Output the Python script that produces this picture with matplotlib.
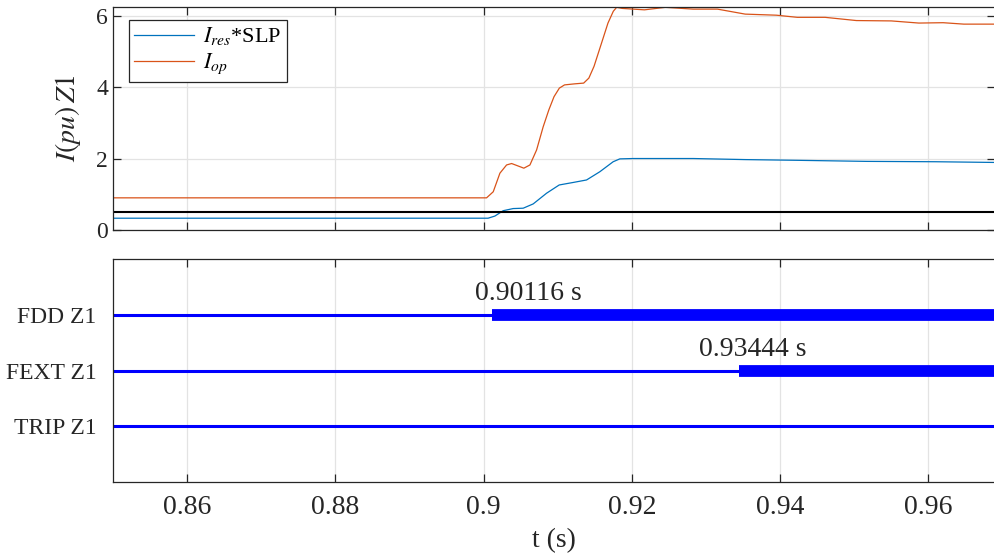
import numpy as np
import matplotlib
matplotlib.use("Agg")
import matplotlib.pyplot as plt

plt.rcParams['font.family'] = ['Liberation Serif', 'DejaVu Serif']
plt.rcParams['mathtext.fontset'] = 'stix'

# ---------------- currents (pu), zone 1 ---------------- #
t_op = [0.85, 0.9004, 0.9013, 0.9022, 0.9031, 0.90378, 0.90467, 0.90543, 0.90625, 0.90715,
        0.90804, 0.9088, 0.9095, 0.91022, 0.91092, 0.91232, 0.9135, 0.9142, 0.9149,
        0.91585, 0.91678, 0.9175, 0.91795, 0.9187, 0.9217, 0.92452, 0.92827, 0.93155,
        0.9353, 0.93951, 0.94233, 0.94608, 0.9503, 0.955, 0.95873, 0.962, 0.9648, 0.969]
I_op = [0.9, 0.9, 1.07, 1.59, 1.82, 1.86, 1.79, 1.73, 1.82, 2.24,
        2.89, 3.36, 3.73, 3.97, 4.06, 4.09, 4.11, 4.25, 4.58,
        5.19, 5.79, 6.12, 6.23, 6.2, 6.16, 6.23, 6.18, 6.18,
        6.04, 6.01, 5.95, 5.95, 5.86, 5.85, 5.79, 5.80, 5.76, 5.76]

t_res = [0.85, 0.9006, 0.90152, 0.90264, 0.90399, 0.90534, 0.90669, 0.9085, 0.9102,
         0.91208, 0.91389, 0.91568, 0.91748, 0.91838, 0.9202, 0.9283, 0.9353, 0.9423,
         0.9517, 0.961, 0.969]
I_res_slp = [0.33, 0.33, 0.39, 0.54, 0.60, 0.61, 0.73, 1.03, 1.26,
             1.33, 1.40, 1.63, 1.91, 1.99, 2.0, 2.0, 1.97, 1.95,
             1.92, 1.91, 1.89]

I_pickup = 0.5

# ---------------- relay elements ---------------- #
signals = ['FDD Z1', 'FEXT Z1', 'TRIP Z1']
levels = [3, 2, 1]
t_assert = [0.90116, 0.93444, None]
t_start, t_end = 0.85, 0.969
label_x = [0.8988, 0.9291]

xticks = [0.86, 0.88, 0.9, 0.92, 0.94, 0.96]

fig = plt.figure(figsize=(9.95, 5.58), dpi=100)
ax1 = fig.add_axes([0.1136, 0.5878, 0.8864, 0.3997])
ax2 = fig.add_axes([0.1136, 0.1362, 0.8864, 0.3996])

edge = '#262626'
gridc = '#e3e3e3'

ax1.plot(t_res, I_res_slp, color='#0072BD', lw=0.9, label=r'$I_{res}$*SLP')
ax1.plot(t_op, I_op, color='#D95319', lw=0.9, label=r'$I_{op}$')
ax1.axhline(I_pickup, color='black', lw=1.5)

ax1.set_xlim(t_start, t_end)
ax1.set_ylim(0, 6.24)
ax1.set_yticks([0, 2, 4, 6])
ax1.set_xticks(xticks)
ax1.set_xticklabels([])
ax1.grid(True, color=gridc, lw=0.9)
ax1.set_axisbelow(True)
ax1.tick_params(direction='in', length=6, width=0.9, colors=edge, labelsize=17,
                top=True, right=True)
ax1.set_ylabel(r'$I(pu)\,Z1$', fontsize=20, color=edge)
ax1.yaxis.set_label_coords(-0.034, 0.5)
leg = ax1.legend(loc='upper left', bbox_to_anchor=(0.018, 0.942), fontsize=16,
                 fancybox=False, framealpha=1, edgecolor=edge, handlelength=2.7,
                 borderaxespad=0, borderpad=0.25, labelspacing=0.2, handletextpad=0.4)
leg.get_frame().set_linewidth(0.9)

for i, name in enumerate(signals):
    y = levels[i]
    ta = t_assert[i]
    if ta is None:
        ax2.plot([t_start, t_end], [y, y], color='#0000FF', lw=2.2, solid_capstyle='butt')
    else:
        ax2.plot([t_start, ta], [y, y], color='#0000FF', lw=2.2, solid_capstyle='butt')
        ax2.plot([ta, t_end], [y, y], color='#0000FF', lw=8.5, solid_capstyle='butt')
        ax2.text(label_x[i], y + 0.16, f'{ta:.5f} s', fontsize=20, color=edge,
                 ha='left', va='bottom')

ax2.set_xlim(t_start, t_end)
ax2.set_ylim(0, 4)
ax2.set_yticks(levels)
ax2.set_yticklabels(signals)
ax2.set_xticks(xticks)
ax2.set_xticklabels(['0.86', '0.88', '0.9', '0.92', '0.94', '0.96'])
ax2.grid(True, axis='x', color=gridc, lw=0.9)
ax2.set_axisbelow(True)
ax2.tick_params(axis='x', direction='in', length=6, width=0.9, colors=edge,
                labelsize=20, top=True, pad=9)
ax2.tick_params(axis='y', length=0, colors=edge, labelsize=17, pad=12)
ax2.set_xlabel('t (s)', fontsize=20, color=edge, labelpad=6)

for ax in (ax1, ax2):
    for s in ax.spines.values():
        s.set_color(edge)
        s.set_linewidth(0.9)

fig.savefig('out.png', dpi=100)
